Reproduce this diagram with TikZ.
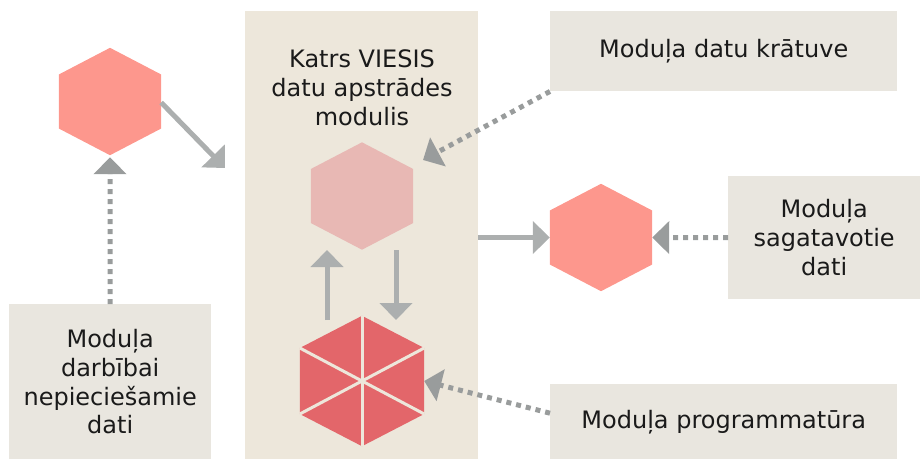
\documentclass[tikz,border=0pt]{standalone}
\usepackage{fontspec}
\setmainfont{DejaVu Sans}
\usetikzlibrary{arrows.meta}
\definecolor{hexsalmon}{HTML}{FD978D}
\definecolor{hexlight}{HTML}{E8B8B4}
\definecolor{hexdark}{HTML}{E3666A}
\definecolor{mainbg}{HTML}{EDE7DB}
\definecolor{boxbg}{HTML}{E9E6DF}
\definecolor{solidgray}{HTML}{ACAFAF}
\definecolor{dotgray}{HTML}{999C9C}
\definecolor{txtcol}{HTML}{1A1A1A}
\newcommand\hexfill[3]{\fill[#2] (#1.north) -- ([yshift=#3]#1.east) -- ([yshift=-#3]#1.east) -- (#1.south) -- ([yshift=-#3]#1.west) -- ([yshift=#3]#1.west) -- cycle;}
\tikzset{
  txt/.style={font=\fontsize{24}{28.8}\selectfont, align=center, text=txtcol},
  boxnode/.style={txt, fill=boxbg, anchor=north west, inner sep=0pt},
  hexnode/.style={minimum width=102pt, minimum height=107pt, inner sep=0pt},
  bighex/.style={minimum width=124pt, minimum height=130pt, inner sep=0pt},
  solidarrow/.style={draw=solidgray, line width=5pt, -{Triangle[length=17pt,width=32pt]}},
  dotarrow/.style={draw=dotgray, line width=5pt, dash pattern=on 5pt off 5pt, -{Triangle[length=17pt,width=32pt]}}
}
\begin{document}
\begin{tikzpicture}[x=1pt,y=-1pt]
\useasboundingbox (0,0) rectangle (920,459);
% main column
\node[fill=mainbg, minimum width=233pt, minimum height=448pt, anchor=north west, inner sep=0pt] (main) at (245,11) {};
\node[txt] (title) at (362,88) {Katrs VIESIS\\datu apstrādes\\modulis};
% boxes
\node[boxnode, minimum width=202pt, minimum height=155pt] (lbox) at (9,304) {Moduļa\\darbībai\\nepieciešamie\\dati};
\node[boxnode, minimum width=347pt, minimum height=80pt] (kbox) at (550,11) {Moduļa datu krātuve};
\node[boxnode, minimum width=192pt, minimum height=123pt] (sbox) at (728,176) {Moduļa\\sagatavotie\\dati};
\node[boxnode, minimum width=347pt, minimum height=75pt] (pbox) at (550,384) {Moduļa programmatūra};
% hexagons
\node[hexnode] (h1) at (110,101.5) {};
\hexfill{h1}{hexsalmon}{27pt}
\node[hexnode] (h2) at (362,196) {};
\hexfill{h2}{hexlight}{27pt}
\node[hexnode] (h3) at (601,237.5) {};
\hexfill{h3}{hexsalmon}{27pt}
\node[bighex] (h4) at (362,381) {};
\hexfill{h4}{hexdark}{33pt}
\foreach \a in {north,south} \draw[mainbg, line width=3pt] (h4.center) -- (h4.\a);
\foreach \a in {east,west} \foreach \s in {33pt,-33pt} \draw[mainbg, line width=3pt] (h4.center) -- ([yshift=\s]h4.\a);
% coordinates for free ends
\coordinate (c1) at (225,168);
\coordinate (c2) at (423,160);
\coordinate (upfrom) at (327,320);
\coordinate (upto) at (327,250);
\coordinate (downfrom) at (396,250);
\coordinate (downto) at (396,320);
% connectors
\draw[solidarrow] ([yshift=-1pt]h1.east) -- (c1);
\draw[dotarrow] (lbox.north) -- ([yshift=-2pt]h1.south);
\draw[solidarrow] (h3.west -| main.east) -- (h3.west);
\draw[dotarrow] (sbox.west) -- (h3.east);
\draw[dotarrow] (kbox.south west) -- (c2);
\draw[dotarrow] ([yshift=8.5pt]pbox.west) -- (h4.east);
\draw[solidarrow] (upfrom) -- (upto);
\draw[solidarrow] (downfrom) -- (downto);
\end{tikzpicture}
\end{document}
